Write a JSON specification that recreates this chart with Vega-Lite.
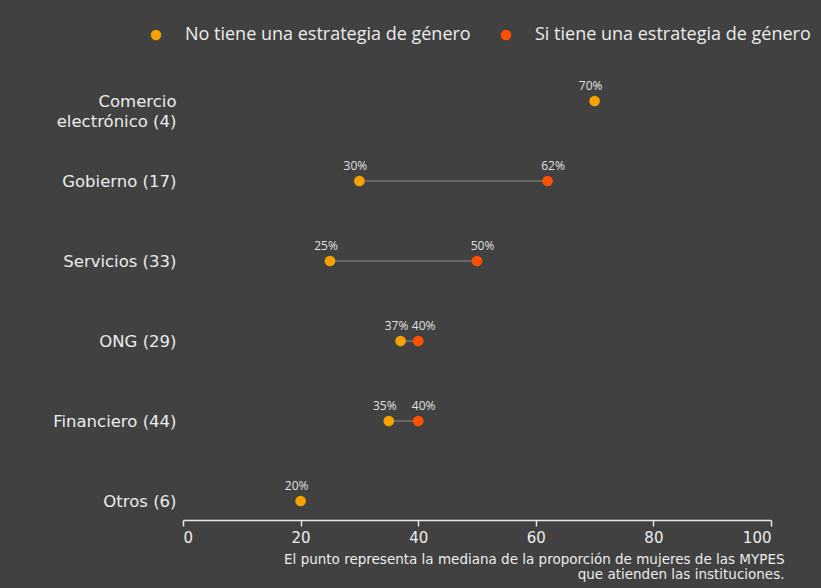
{
  "$schema": "https://vega.github.io/schema/vega-lite/v6.json",
  "autosize": "none",
  "width": 588,
  "height": 438,
  "padding": {"left": 183, "top": 82, "right": 50, "bottom": 68},
  "background": "#414141",
  "config": {
    "view": {"stroke": null},
    "font": "Open Sans"
  },
  "data": {
    "values": [
      {"categoria": "Comercio|electrónico (4)", "tipo": "No tiene una estrategia de género", "valor": 70},
      {"categoria": "Gobierno (17)", "tipo": "No tiene una estrategia de género", "valor": 30},
      {"categoria": "Gobierno (17)", "tipo": "Si tiene una estrategia de género", "valor": 62},
      {"categoria": "Servicios (33)", "tipo": "No tiene una estrategia de género", "valor": 25},
      {"categoria": "Servicios (33)", "tipo": "Si tiene una estrategia de género", "valor": 50},
      {"categoria": "ONG (29)", "tipo": "No tiene una estrategia de género", "valor": 37},
      {"categoria": "ONG (29)", "tipo": "Si tiene una estrategia de género", "valor": 40},
      {"categoria": "Financiero (44)", "tipo": "No tiene una estrategia de género", "valor": 35},
      {"categoria": "Financiero (44)", "tipo": "Si tiene una estrategia de género", "valor": 40},
      {"categoria": "Otros (6)", "tipo": "No tiene una estrategia de género", "valor": 20}
    ]
  },
  "encoding": {
    "y": {
      "field": "categoria",
      "type": "nominal",
      "sort": null,
      "scale": {"type": "point", "padding": 0.2375},
      "axis": {
        "title": null,
        "domain": false,
        "ticks": false,
        "grid": false,
        "labelPadding": 7,
        "labelFontSize": 16.5,
        "labelColor": "#ececec",
        "labelFont": "DejaVu Sans",
        "labelLineHeight": 20,
        "labelExpr": "split(datum.label, '|')"
      }
    },
    "x": {
      "field": "valor",
      "type": "quantitative",
      "scale": {"domain": [0, 100], "nice": false},
      "axis": {
        "values": [0, 20, 40, 60, 80, 100],
        "grid": false,
        "domainColor": "#e6e6e6",
        "domainWidth": 1.5,
        "tickColor": "#e6e6e6",
        "tickWidth": 1.5,
        "tickSize": 6,
        "labelFont": "DejaVu Sans",
        "labelFontSize": 15,
        "labelColor": "#ececec",
        "labelPadding": 4,
        "title": ["El punto representa la mediana de la proporción de mujeres de las MYPES", "que atienden las instituciones."],
        "titleFont": "DejaVu Sans",
        "titleFontSize": 13.5,
        "titleFontWeight": "normal",
        "titleColor": "#ececec",
        "titleAlign": "right",
        "titleAnchor": "end",
        "titleBaseline": "top",
        "titleX": 601,
        "titleY": 32,
        "titleLineHeight": 15
      }
    }
  },
  "layer": [
    {
      "mark": {"type": "line", "color": "#666666", "strokeWidth": 2},
      "encoding": {"detail": {"field": "categoria"}}
    },
    {
      "mark": {"type": "circle", "opacity": 1, "size": 115},
      "encoding": {
        "color": {
          "field": "tipo",
          "type": "nominal",
          "scale": {
            "domain": ["No tiene una estrategia de género", "Si tiene una estrategia de género"],
            "range": ["#f8a100", "#ff5000"]
          },
          "legend": {
            "title": null,
            "orient": "none",
            "direction": "horizontal",
            "legendX": -36,
            "legendY": -56,
            "symbolType": "circle",
            "symbolSize": 110,
            "symbolOpacity": 1,
            "labelFontSize": 18,
            "labelLimit": 400,
            "labelColor": "#ececec",
            "labelOffset": 20,
            "columnPadding": 26
          }
        }
      }
    },
    {
      "transform": [
        {"filter": "datum.tipo == 'No tiene una estrategia de género'"},
        {"calculate": "datum.valor + '%'", "as": "etiqueta"}
      ],
      "mark": {"type": "text", "font": "Open Sans", "fontSize": 12, "color": "#e0e0e0", "dy": -15, "dx": -4},
      "encoding": {
        "text": {"field": "etiqueta", "type": "nominal"}
      }
    },
    {
      "transform": [
        {"filter": "datum.tipo == 'Si tiene una estrategia de género'"},
        {"calculate": "datum.valor + '%'", "as": "etiqueta"}
      ],
      "mark": {"type": "text", "font": "Open Sans", "fontSize": 12, "color": "#e0e0e0", "dy": -15, "dx": 5.5},
      "encoding": {
        "text": {"field": "etiqueta", "type": "nominal"}
      }
    }
  ]
}
